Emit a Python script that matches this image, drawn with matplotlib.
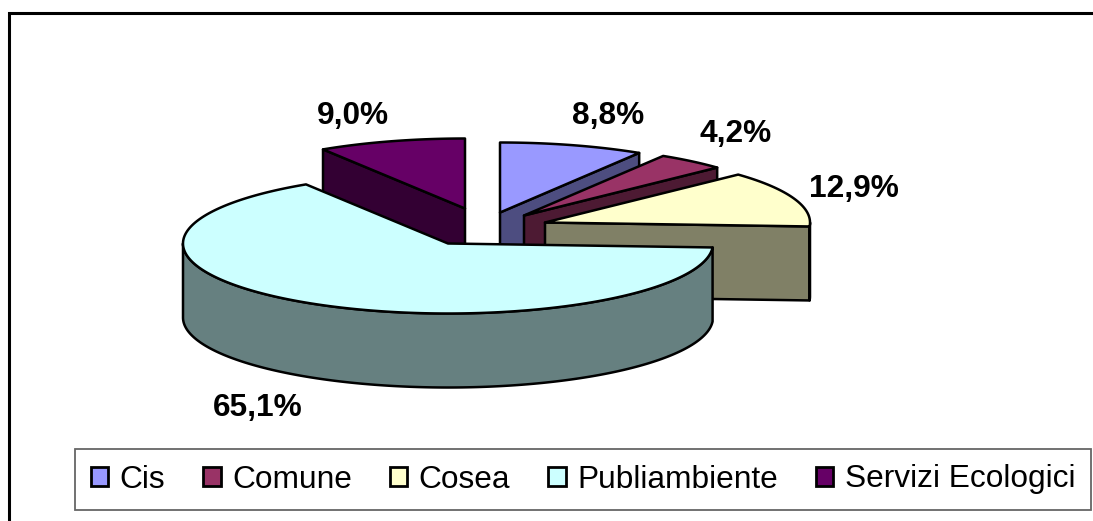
import numpy as np
import matplotlib
matplotlib.use("Agg")
import matplotlib.pyplot as plt
from matplotlib.patches import Polygon, Patch

plt.rcParams['font.family'] = ['Liberation Sans', 'DejaVu Sans']

names = ["Cis", "Comune", "Cosea", "Publiambiente", "Servizi Ecologici"]
values = [8.8, 4.2, 12.9, 65.1, 9.0]
labels = ["8,8%", "4,2%", "12,9%", "65,1%", "9,0%"]

top_colors = ["#9999FF", "#993366", "#FFFFCC", "#CCFFFF", "#660066"]
side_colors = ["#4D4D80", "#4D1A33", "#808066", "#668080", "#330033"]

# the picture is laid out in pixels, y going down
W, H = 1093, 521
cx, cy = 448, 243.5
rx, ry = 265, 70
depth = 74
explode = [(52, -31), (76, -28), (97, -21), (0, 0), (17, -35)]
label_pos = [(608, 116), (736, 134), (854, 189), (258, 408), (353, 116)]
draw_order = [4, 0, 1, 2, 3]


def rim(x0, y0, a0, a1):
    # angles in degrees, clockwise from 12 o'clock
    a = np.radians(np.linspace(a0, a1, max(int(abs(a1 - a0)) * 2, 2)))
    return np.column_stack((x0 + rx * np.sin(a), y0 - ry * np.cos(a)))


fig = plt.figure(figsize=(W / 100, H / 100), dpi=100)
ax = fig.add_axes([0, 0, 1, 1])
ax.set_xlim(0, W)
ax.set_ylim(H, 0)
ax.axis("off")

# chart frame, runs off the right and bottom of the image
ax.plot([8.5, 8.5, W + 5], [H + 5, 13, 13], color="black", lw=2.2, solid_joinstyle="miter")

ends = np.cumsum(values) / sum(values) * 360
starts = np.concatenate(([0], ends[:-1]))

for i in draw_order:
    x0 = cx + explode[i][0]
    y0 = cy + explode[i][1]
    a0, a1 = starts[i], ends[i]
    arc = rim(x0, y0, a0, a1)
    z = 2 + draw_order.index(i) * 3
    down = np.array([0, depth])

    # wall on whichever cut faces the viewer
    cut = None
    if a1 < 180:
        cut = arc[-1]
    elif a0 > 180:
        cut = arc[0]
    if cut is not None:
        wall = [(x0, y0), cut, cut + down, (x0, y0 + depth)]
        ax.add_patch(Polygon(wall, closed=True, fc=side_colors[i], ec="black", lw=1.8,
                             joinstyle="round", zorder=z))

    # outer wall, only the part facing the viewer
    v0, v1 = max(a0, 90), min(a1, 270)
    if v1 > v0:
        front = rim(x0, y0, v0, v1)
        wall = np.vstack((front, (front + down)[::-1]))
        ax.add_patch(Polygon(wall, closed=True, fc=side_colors[i], ec="black", lw=1.8,
                             joinstyle="round", zorder=z + 1))

    top = np.vstack(([(x0, y0)], arc))
    ax.add_patch(Polygon(top, closed=True, fc=top_colors[i], ec="black", lw=1.8,
                         joinstyle="round", zorder=z + 2))

for lab, pos in zip(labels, label_pos):
    ax.text(pos[0], pos[1], lab, fontsize=22.8, fontweight="bold", ha="center", va="center",
            color="black", zorder=30)

handles = [Patch(fc=c, ec="black", lw=2.0) for c in top_colors]
leg = ax.legend(handles, names, ncol=5, fontsize=22.8, frameon=True, fancybox=False,
                edgecolor="#666666", framealpha=1, loc="center",
                bbox_to_anchor=(583 / W, 1 - 479.5 / H),
                handlelength=0.55, handleheight=0.55, handletextpad=0.36,
                columnspacing=1.2, borderpad=0.5, labelcolor="black")
leg.get_frame().set_linewidth(1.3)
leg.set_zorder(40)

fig.savefig("out.png", dpi=100, facecolor="white")
